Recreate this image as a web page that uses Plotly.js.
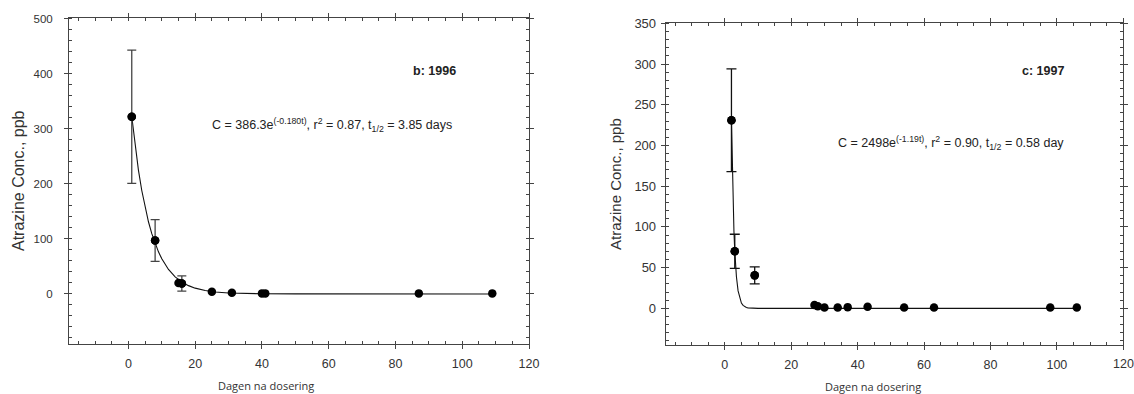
<!DOCTYPE html>
<html>
<head>
<meta charset="utf-8">
<script src="https://cdn.plot.ly/plotly-3.0.1.min.js"></script>
<style>html,body{margin:0;padding:0;background:#fff;overflow:hidden;}#chart{width:1134px;height:394px;}</style>
</head>
<body>
<div id="chart"></div>
<script>
// ---- 1996 (panel b) ----
const days1996 = [1, 8, 15, 16, 25, 31, 40, 41, 87, 109];
const conc1996 = [322, 97, 20, 19, 4, 2, 1, 1, 1, 1];
const err1996  = [121, 38, 0, 14, 0, 0, 0, 0, 0, 0];
const fitDays1996 = [1, 2, 3, 4, 5, 6, 7, 8, 9, 10, 11, 12, 14, 16, 18, 20, 23, 26, 30, 35, 40, 50, 109];
const fitConc1996 = [322.6, 269.5, 225.1, 188.0, 157.1, 131.2, 109.6, 91.5, 76.5, 63.9, 53.3, 44.5, 31.1, 21.7, 15.1, 10.5, 6.2, 3.6, 1.7, 0.7, 0.3, 0.05, 0];

// ---- 1997 (panel c) ----
const days1997 = [2, 3, 9, 27, 28, 30, 34, 37, 43, 54, 63, 98, 106];
const conc1997 = [231, 70, 40.5, 4, 2.5, 1, 1, 1.5, 2, 1, 1, 1, 1];
const err1997  = [63, 21, 10.5, 0, 0, 0, 0, 0, 0, 0, 0, 0, 0];
const fitDays1997 = [2, 2.25, 2.5, 2.75, 3, 3.25, 3.5, 4, 4.5, 5, 5.5, 6, 6.5, 7, 8, 10, 106];
const fitConc1997 = [231.2, 171.7, 127.5, 94.7, 70.3, 52.2, 38.8, 21.4, 11.8, 6.5, 3.6, 2.0, 1.1, 0.6, 0.2, 0, 0];

const xTickVals = [0, 20, 40, 60, 80, 100, 120];
const yTitle = 'Atrazine Conc., ppb';
const xTitle = 'Dagen na dosering';
const label1996 = 'b: 1996';
const label1997 = 'c: 1997';
const eq1996 = 'C = 386.3e<sup>(-0.180t)</sup>, r<sup>2</sup> = 0.87, t<sub>1/2</sub> = 3.85 days';
const eq1997 = 'C = 2498e<sup>(-1.19t)</sup>, r<sup>2</sup> = 0.90, t<sub>1/2</sub> = 0.58 day';

const W = 1134, H = 394;
const px = v => v / W;
const py = v => 1 - v / H;

function pick(arr, err) { return arr.filter((_, i) => err[i] > 0); }

function panel(days, conc, err, fx, fy, xa, ya, errColor, capW) {
  return [
    { x: fx, y: fy, xaxis: xa, yaxis: ya, mode: 'lines', type: 'scatter',
      line: { color: '#111', width: 1.1 }, hoverinfo: 'skip', showlegend: false },
    { x: pick(days, err), y: pick(conc, err), xaxis: xa, yaxis: ya, mode: 'markers', type: 'scatter',
      marker: { color: '#000', size: 8.5 }, showlegend: false,
      error_y: { type: 'data', array: pick(err, err), color: errColor, thickness: 1.3, width: capW } },
    { x: days, y: conc, xaxis: xa, yaxis: ya, mode: 'markers', type: 'scatter',
      marker: { color: '#000', size: 8.5 }, showlegend: false }
  ];
}

const data = [
  ...panel(days1996, conc1996, err1996, fitDays1996, fitConc1996, 'x', 'y', '#444', 4.5),
  ...panel(days1997, conc1997, err1997, fitDays1997, fitConc1997, 'x2', 'y2', '#111', 5)
];

const tickFamily = 'Liberation Sans, Arial, sans-serif';
const lastTick = xTickVals[xTickVals.length - 1];

function xAxis(domain, anchor, fs, tickText) {
  return {
    domain: domain, anchor: anchor, range: [-17.8, 120],
    tickvals: xTickVals, ticktext: tickText, ticks: 'outside', ticklen: 4, tickwidth: 1, tickcolor: '#444',
    minor: { dtick: 5, tick0: 0, ticks: 'inside', ticklen: 3, tickwidth: 1, tickcolor: '#444', showgrid: false },
    showline: true, linecolor: '#444', linewidth: 1, mirror: 'allticks',
    showgrid: false, zeroline: false, automargin: false,
    tickfont: { family: tickFamily, size: fs, color: '#333' },
    ticklabelstandoff: 4, ticklabeloverflow: 'allow'
  };
}
function yAxis(domain, anchor, range, dtick, minor, fs, standoff) {
  return {
    domain: domain, anchor: anchor, range: range,
    tick0: 0, dtick: dtick, ticks: 'outside', ticklen: 4, tickwidth: 1, tickcolor: '#444',
    minor: { dtick: minor, tick0: 0, ticks: 'inside', ticklen: 3, tickwidth: 1, tickcolor: '#444', showgrid: false },
    showline: true, linecolor: '#444', linewidth: 1, mirror: 'allticks',
    showgrid: false, zeroline: false, automargin: false,
    tickfont: { family: tickFamily, size: fs, color: '#333' },
    ticklabelstandoff: standoff
  };
}

const txtFont = { family: tickFamily, color: '#222' };
const tickTextLeft = xTickVals.map(v => String(v));
// right panel: the last label is drawn once, by the annotation below (Plotly drops it at the page edge)
const tickTextRight = xTickVals.map(v => v === lastTick ? ' ' : String(v));

const layout = {
  width: W, height: H,
  margin: { l: 0, r: 0, t: 0, b: 0 },
  paper_bgcolor: '#fff', plot_bgcolor: '#fff',
  showlegend: false,
  xaxis: xAxis([px(69), px(529)], 'y', 12.5, tickTextLeft),
  yaxis: yAxis([1 - 344 / H, 1 - 18.3 / H], 'x', [-91, 501], 100, 20, 11.5, 9),
  xaxis2: xAxis([px(665.7), px(1123.3)], 'y2', 12.5, tickTextRight),
  yaxis2: yAxis([1 - 345 / H, 1 - 23.3 / H], 'x2', [-45, 350], 50, 10, 13, 2),
  annotations: [
    { text: String(lastTick), xref: 'x2', yref: 'paper', x: lastTick, y: py(364),
      showarrow: false, xanchor: 'center', yanchor: 'middle', font: { family: tickFamily, size: 12.5, color: '#333' } },
    { text: yTitle, xref: 'paper', yref: 'paper', x: px(18), y: py(181), textangle: -90,
      showarrow: false, xanchor: 'center', yanchor: 'middle', font: { ...txtFont, size: 16, color: '#333' } },
    { text: yTitle, xref: 'paper', yref: 'paper', x: px(615), y: py(184), textangle: -90,
      showarrow: false, xanchor: 'center', yanchor: 'middle', font: { ...txtFont, size: 15, color: '#333' } },
    { text: xTitle, xref: 'paper', yref: 'paper', x: px(266), y: py(385),
      showarrow: false, xanchor: 'center', yanchor: 'middle', font: { family: 'Open Sans, Noto Sans, sans-serif', size: 11, color: '#333' } },
    { text: xTitle, xref: 'paper', yref: 'paper', x: px(873), y: py(386.5),
      showarrow: false, xanchor: 'center', yanchor: 'middle', font: { family: 'Open Sans, Noto Sans, sans-serif', size: 11, color: '#333' } },
    { text: '<b>' + label1996 + '</b>', xref: 'paper', yref: 'paper', x: px(434.7), y: py(70.5),
      showarrow: false, xanchor: 'center', yanchor: 'middle', font: { ...txtFont, size: 12.5 } },
    { text: '<b>' + label1997 + '</b>', xref: 'paper', yref: 'paper', x: px(1043), y: py(71),
      showarrow: false, xanchor: 'center', yanchor: 'middle', font: { ...txtFont, size: 12.5 } },
    { text: eq1996, xref: 'paper', yref: 'paper', x: px(331.7), y: py(125),
      showarrow: false, xanchor: 'center', yanchor: 'middle', font: { ...txtFont, size: 12.5 } },
    { text: eq1997, xref: 'paper', yref: 'paper', x: px(951), y: py(142.5),
      showarrow: false, xanchor: 'center', yanchor: 'middle', font: { ...txtFont, size: 12.5 } }
  ]
};

Plotly.newPlot('chart', data, layout, { displayModeBar: false, staticPlot: true });
</script>
</body>
</html>
